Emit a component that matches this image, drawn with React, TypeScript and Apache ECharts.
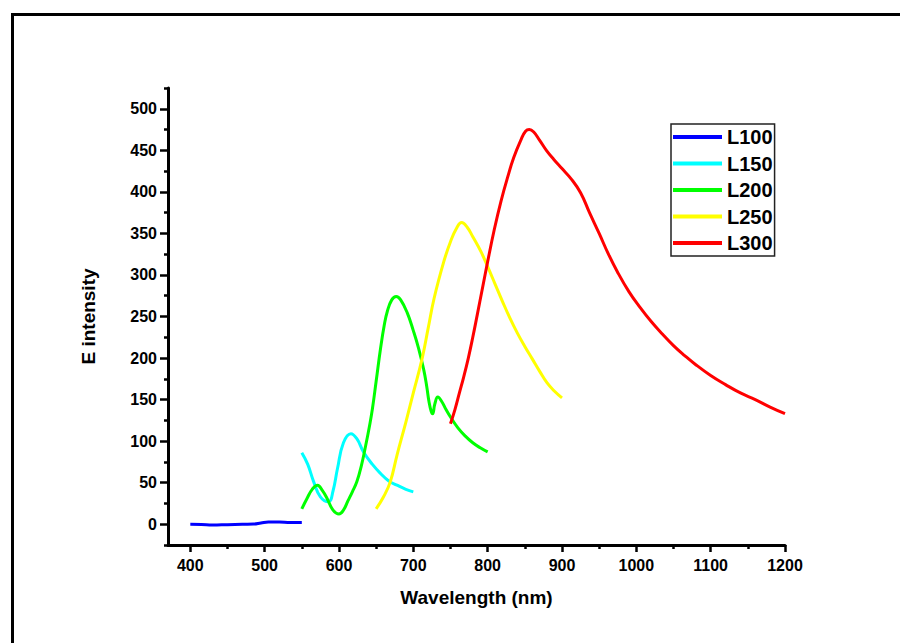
import React, { useEffect, useRef } from "react";
import * as echarts from "echarts";

const l100X = [400, 415, 430, 450, 470, 485, 495, 505, 520, 535, 550];
const l100Y = [0, -0.3, -1, -0.5, 0, 0.2, 1.5, 2.8, 2.6, 2, 2];

const l150X = [550, 558, 566, 575, 586, 592, 598, 606, 616, 624, 633, 645, 656, 667, 678, 690, 700];
const l150Y = [86, 72, 51, 33, 27, 40, 67, 98, 109, 103, 87, 72, 61, 52, 47, 42, 39];

const l200X = [550, 557, 564, 571, 578, 584, 592, 600, 606, 612, 618, 624, 630, 636, 641, 645, 650, 656, 661, 665, 671, 677, 683, 692, 700, 707, 714, 718, 721, 724, 726, 729, 733, 738, 744, 750, 760, 770, 780, 790, 800];
const l200Y = [18.5, 31, 42, 47, 40, 31, 17, 12.4, 17, 28, 39, 51, 70, 95, 118, 139, 172, 212, 240, 256, 270, 274, 270, 254, 233, 212, 186, 166, 148, 136, 133, 145, 153, 148, 138, 129, 116, 106, 98, 92, 87];

const l250X = [650, 660, 669, 678, 690, 700, 712, 720, 728, 741, 750, 758, 765, 772, 780, 791, 800, 810, 820, 830, 840, 850, 860, 870, 880, 890, 900];
const l250Y = [18.5, 33, 51, 83, 123, 158, 200, 236, 272, 316, 340, 356, 363, 358, 346, 328, 310, 289, 268, 248, 230, 214, 199, 184, 170, 160, 152];

const l300X = [750, 756, 762, 768, 774, 780, 786, 793, 800, 809, 818, 827, 835, 845, 851, 856, 862, 870, 879, 889, 900, 912, 925, 937, 950, 962, 975, 990, 1005, 1020, 1035, 1050, 1065, 1080, 1100, 1120, 1140, 1160, 1180, 1200];
const l300Y = [121, 138, 158, 178, 200, 225, 252, 284, 316, 355, 389, 418, 441, 463, 473, 475, 472, 462, 450, 439, 428, 416, 399, 375, 350, 326, 303, 280, 261, 244, 229, 215, 203, 192, 179, 168, 158, 150, 141, 133];

const seriesNames = ["L100", "L150", "L200", "L250", "L300"];
const seriesColors = ["#0000FF", "#00FFFF", "#00FF00", "#FFFF00", "#FF0000"];

const xMajor = [400, 500, 600, 700, 800, 900, 1000, 1100, 1200];
const xMinor = [450, 550, 650, 750, 850, 950, 1050, 1150];
const yMajor = [0, 50, 100, 150, 200, 250, 300, 350, 400, 450, 500];
const yMinor = [-25, 25, 75, 125, 175, 225, 275, 325, 375, 425, 475, 525];

const zip = (xs: number[], ys: number[]) => xs.map((x, i) => [x, ys[i]]);

export default function App() {
  const ref = useRef<HTMLDivElement>(null);
  useEffect(() => {
    if (!ref.current) return;
    const chart = echarts.init(ref.current, null, { renderer: "svg" });
    const font = "'Liberation Sans', Arial, sans-serif";
    const datasets = [zip(l100X, l100Y), zip(l150X, l150Y), zip(l200X, l200Y), zip(l250X, l250Y), zip(l300X, l300Y)];
    const xMin = 370, xMax = 1200, yMin = -25, yMax = 525;
    const plain = (v: number) => String(v);
    chart.setOption({
      animation: false,
      backgroundColor: "#ffffff",
      grid: { left: 168, right: 115, top: 88, bottom: 98 },
      xAxis: [
        {
          type: "value", min: xMin, max: xMax,
          name: "Wavelength (nm)", nameLocation: "middle", nameGap: 43,
          nameTextStyle: { fontFamily: font, fontWeight: "bold", fontSize: 19, color: "#000" },
          axisLine: { show: true, onZero: false, lineStyle: { color: "#000", width: 3 } },
          axisTick: { show: true, length: 7, inside: false, customValues: xMajor, lineStyle: { color: "#000", width: 2.5 } },
          axisLabel: { customValues: xMajor, formatter: plain, margin: 12, fontFamily: font, fontWeight: "bold", fontSize: 16, color: "#000" },
          splitLine: { show: false },
        },
        {
          type: "value", min: xMin, max: xMax, position: "bottom",
          axisLine: { show: false, onZero: false },
          axisTick: { show: true, length: 4, customValues: xMinor, lineStyle: { color: "#000", width: 2.5 } },
          axisLabel: { show: false },
          splitLine: { show: false },
        },
      ],
      yAxis: [
        {
          type: "value", min: yMin, max: yMax,
          name: "E intensity", nameLocation: "middle", nameGap: 70, nameRotate: 90,
          nameTextStyle: { fontFamily: font, fontWeight: "bold", fontSize: 19, color: "#000" },
          axisLine: { show: true, onZero: false, lineStyle: { color: "#000", width: 3 } },
          axisTick: { show: true, length: 8, customValues: yMajor, lineStyle: { color: "#000", width: 2.5 } },
          axisLabel: { customValues: yMajor, formatter: plain, margin: 11, fontFamily: font, fontWeight: "bold", fontSize: 16, color: "#000" },
          splitLine: { show: false },
        },
        {
          type: "value", min: yMin, max: yMax, position: "left",
          axisLine: { show: false, onZero: false },
          axisTick: { show: true, length: 4, customValues: yMinor, lineStyle: { color: "#000", width: 2.5 } },
          axisLabel: { show: false },
          splitLine: { show: false },
        },
      ],
      legend: {
        left: 671, top: 124, orient: "vertical",
        padding: [3, 2, 3, 2],
        itemGap: 6.5, itemWidth: 49, itemHeight: 4, itemTextGap: 5,
        borderColor: "#222", borderWidth: 1.5,
        icon: "rect",
        textStyle: { fontFamily: font, fontWeight: "bold", fontSize: 20, color: "#000" },
        data: seriesNames,
      },
      graphic: [
        {
          type: "rect", left: 10, top: 12,
          shape: { x: 0, y: 0, width: 1000, height: 1000 },
          style: { fill: "none", stroke: "#000", lineWidth: 3 },
          silent: true,
        },
      ],
      series: seriesNames.map((name, i) => ({
        name, type: "line", xAxisIndex: 0, yAxisIndex: 0,
        data: datasets[i], showSymbol: false, symbol: "none", smooth: 0.45,
        color: seriesColors[i],
        lineStyle: { color: seriesColors[i], width: 3 },
        z: 2 + i,
      })),
    });
    return () => chart.dispose();
  }, []);
  return <div ref={ref} style={{ position: "fixed", left: 0, top: 0, width: 900, height: 643 }} />;
}
